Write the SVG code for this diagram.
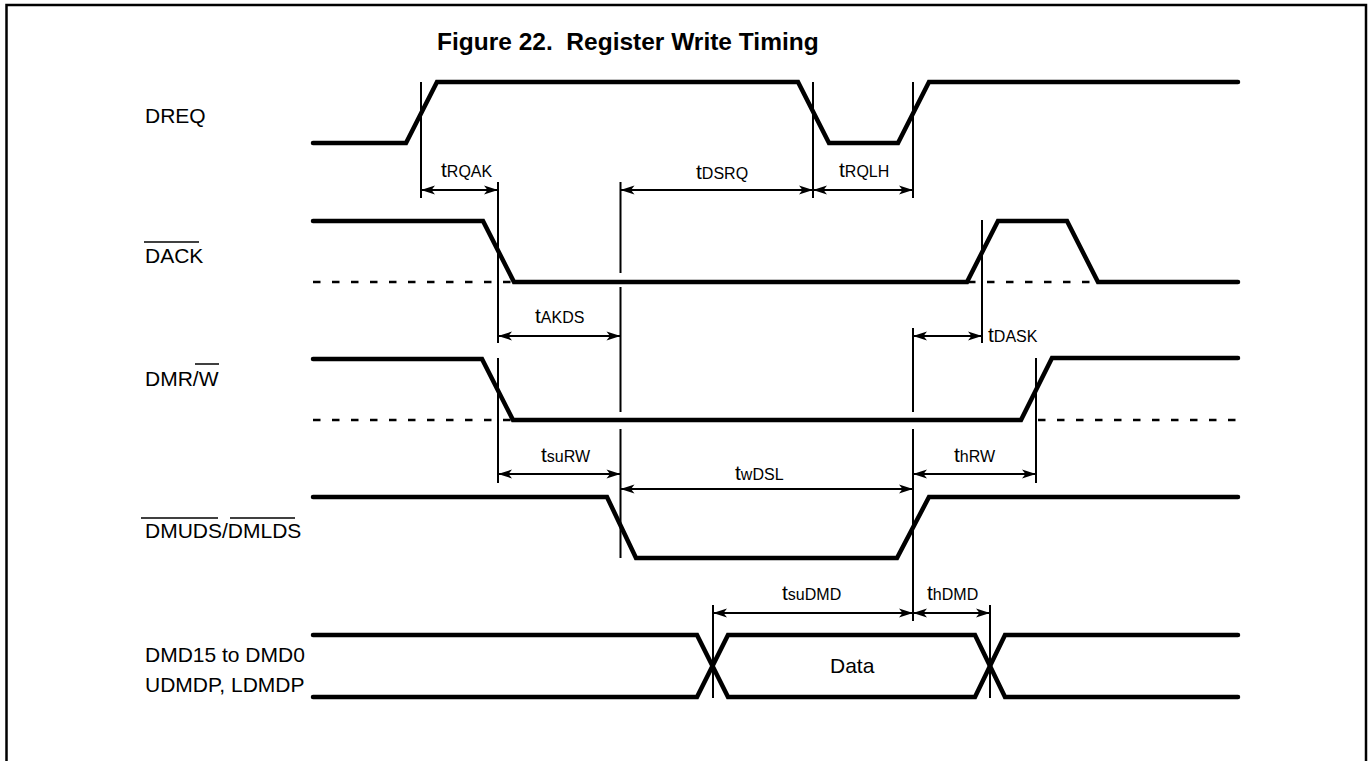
<svg xmlns="http://www.w3.org/2000/svg" width="1369" height="761" viewBox="0 0 1369 761">
<style>
.sig{fill:none;stroke:#000;stroke-width:4.5;stroke-linecap:round;stroke-linejoin:miter}
.dash{fill:none;stroke:#000;stroke-width:2.5;stroke-dasharray:7.5 11.5}
.vl{fill:none;stroke:#000;stroke-width:2}
.arr{fill:none;stroke:#000;stroke-width:2;marker-start:url(#ah);marker-end:url(#ah)}
.ol{stroke:#000;stroke-width:1.5}
text{font-family:"Liberation Sans",Arial,sans-serif;fill:#000}
.lbl{font-size:21px}
.tl{font-size:21px}
.sub{font-size:16px}
.title{font-size:24.5px;font-weight:bold}
</style>
<defs>
<marker id="ah" viewBox="-15 -6 16 12" refX="0" refY="0" markerWidth="16" markerHeight="12" markerUnits="userSpaceOnUse" orient="auto-start-reverse">
<path d="M0,0 L-14,-4.5 L-10.5,0 L-14,4.5 Z" fill="#000"/>
</marker>
</defs>
<rect x="0" y="0" width="1369" height="761" fill="#fff"/>
<rect x="6.5" y="5" width="1359.5" height="820" fill="none" stroke="#000" stroke-width="2.5"/>
<text class="title" x="437" y="50" xml:space="preserve">Figure 22.  Register Write Timing</text>

<g id="DREQ">
<text class="lbl" x="145" y="123">DREQ</text>
<path class="sig" d="M313,143 L406,143 L437,82 L798,82 L829,143 L898,143 L929,82 L1238,82"/>
</g>
<g id="DACK">
<text class="lbl" x="145" y="263">DACK</text>
<line class="ol" x1="144" y1="242" x2="199" y2="242"/>
<path class="dash" d="M313,282 L514,282 M968,282 L1098,282"/>
<path class="sig" d="M313,221 L483,221 L514,282 L967,282 L998,221 L1067,221 L1098,282 L1238,282"/>
</g>
<g id="DMRW">
<text class="lbl" x="145" y="386">DMR/W</text>
<line class="ol" x1="195" y1="364" x2="219" y2="364"/>
<path class="dash" d="M313,420 L513,420 M1038,420 L1238,420"/>
<path class="sig" d="M313,359 L482,359 L513,420 L1021,420 L1052,358 L1238,358"/>
</g>
<g id="DMUDS">
<text class="lbl" x="145" y="538">DMUDS/DMLDS</text>
<line class="ol" x1="141" y1="518" x2="218" y2="518"/>
<line class="ol" x1="230" y1="518" x2="295" y2="518"/>
<path class="sig" d="M313,497 L607,497 L636,558 L897,558 L929,497 L1238,497"/>
</g>
<g id="DMD">
<text class="lbl" x="145" y="662">DMD15 to DMD0</text>
<text class="lbl" x="145" y="692">UDMDP, LDMDP</text>
<path class="sig" d="M313,635 L697,635 L728,697 L975,697 L1005,635 L1238,635"/>
<path class="sig" d="M313,697 L697,697 L728,635 L975,635 L1005,697 L1238,697"/>
<text class="lbl" x="830" y="673">Data</text>
</g>

<g id="connectors">
<path class="vl" d="M421,82 V198 M498,182 V343 M498,358 V483 M620.5,182 V273 M620.5,287 V412 M620.5,429 V558 M813,82 V198 M913,82 V198 M913,328 V412 M913,429 V621 M982,220 V343 M1036,358 V483 M713,605 V698 M990,605 V698"/>
<line class="arr" x1="421" y1="190" x2="498" y2="190"/>
<line class="arr" x1="620.5" y1="190" x2="813" y2="190"/>
<line class="arr" x1="813" y1="190" x2="913" y2="190"/>
<line class="arr" x1="498" y1="336" x2="620.5" y2="336"/>
<line class="arr" x1="913" y1="336" x2="982" y2="336"/>
<line class="arr" x1="498" y1="474" x2="620.5" y2="474"/>
<line class="arr" x1="913" y1="474" x2="1036" y2="474"/>
<line class="arr" x1="620.5" y1="489" x2="913" y2="489"/>
<line class="arr" x1="713" y1="613" x2="913" y2="613"/>
<line class="arr" x1="913" y1="613" x2="990" y2="613"/>
</g>

<g id="timing-labels">
<text class="tl" x="441" y="177">t<tspan class="sub">RQAK</tspan></text>
<text class="tl" x="696" y="179">t<tspan class="sub">DSRQ</tspan></text>
<text class="tl" x="839" y="177">t<tspan class="sub">RQLH</tspan></text>
<text class="tl" x="535" y="323">t<tspan class="sub">AKDS</tspan></text>
<text class="tl" x="988" y="342">t<tspan class="sub">DASK</tspan></text>
<text class="tl" x="541" y="462">t<tspan class="sub">suRW</tspan></text>
<text class="tl" x="954" y="462">t<tspan class="sub">hRW</tspan></text>
<text class="tl" x="735" y="480">t<tspan class="sub">wDSL</tspan></text>
<text class="tl" x="782" y="600">t<tspan class="sub">suDMD</tspan></text>
<text class="tl" x="927" y="600">t<tspan class="sub">hDMD</tspan></text>
</g>
</svg>
